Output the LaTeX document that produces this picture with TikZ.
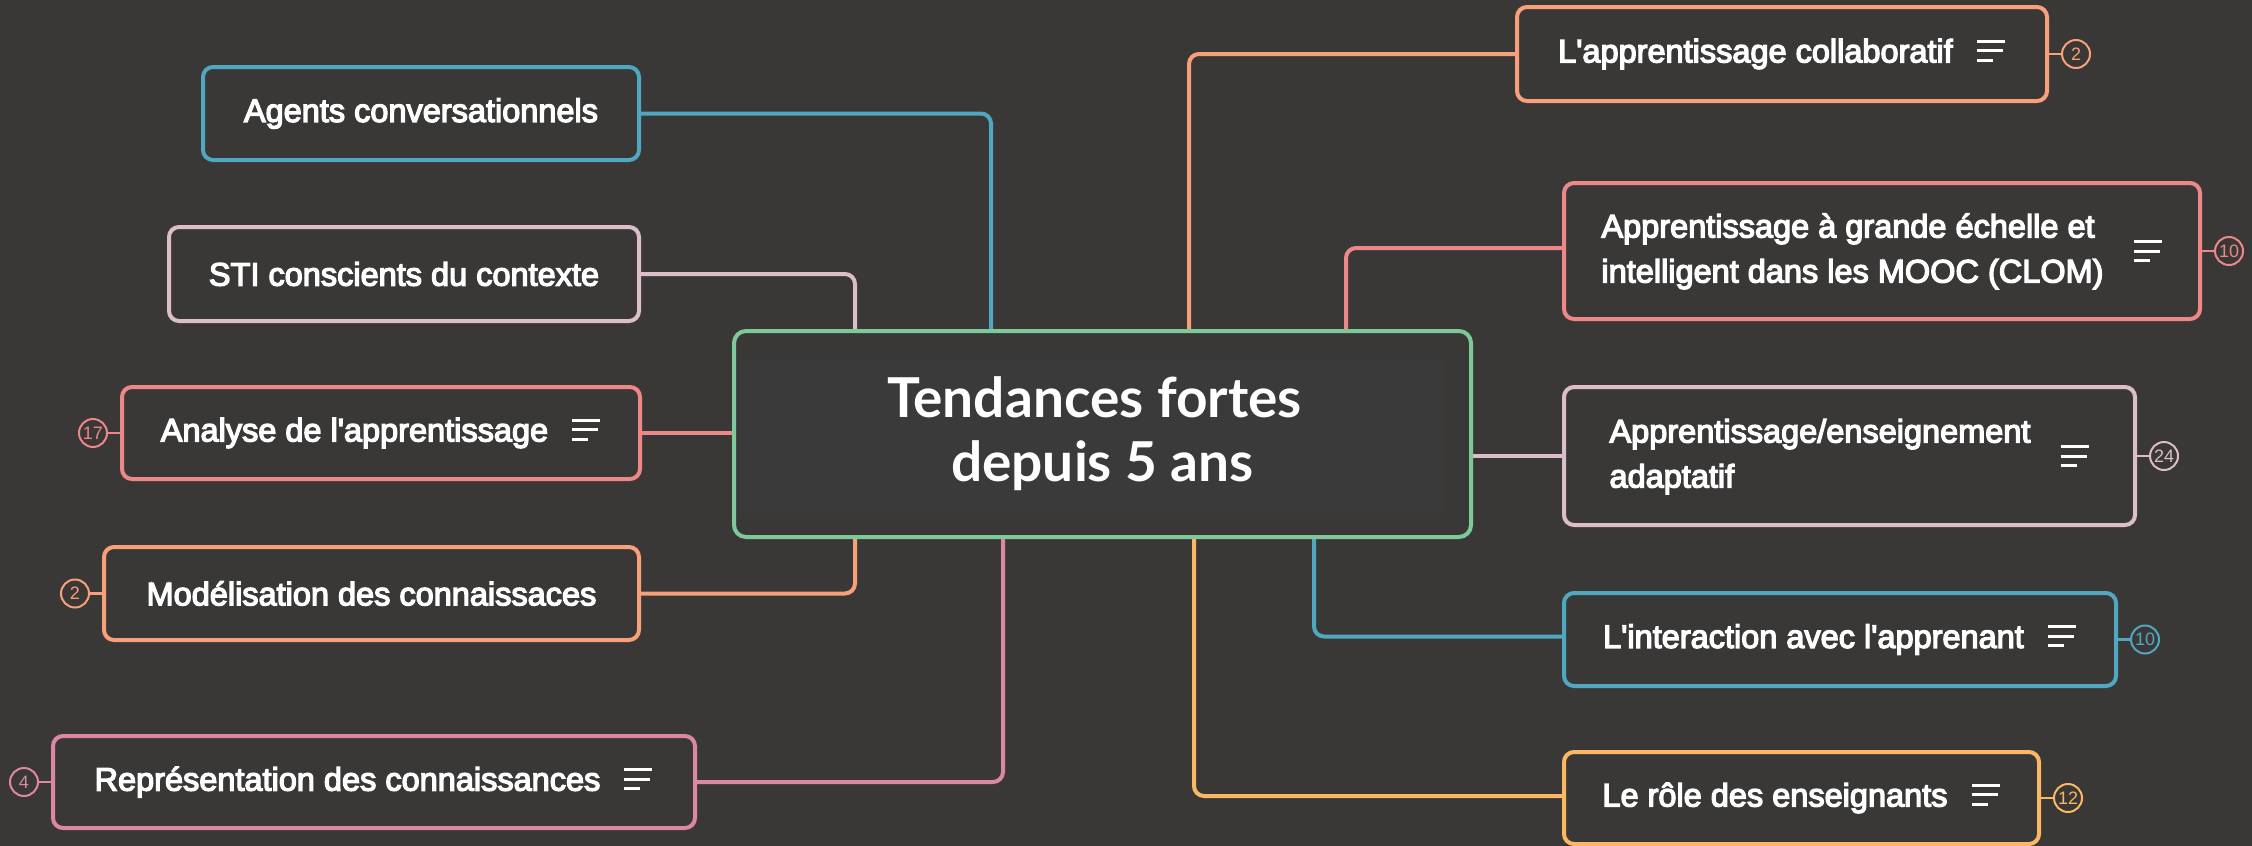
\documentclass[tikz,border=0pt]{standalone}
\usepackage{fontspec}
\setmainfont{Liberation Sans}
\newfontfamily\nodefont[FakeBold=4]{Liberation Sans}
\newfontfamily\titlefont{Lato}
\usetikzlibrary{positioning}

\definecolor{bgcol}{HTML}{393837}
\definecolor{innercol}{HTML}{3B3A3A}
\definecolor{cGreen}{HTML}{7DC99A}
\definecolor{cBlue}{HTML}{50A8C0}
\definecolor{cRose}{HTML}{DCBEC8}
\definecolor{cSalmon}{HTML}{EE8888}
\definecolor{cOrange}{HTML}{F8A07A}
\definecolor{cPink}{HTML}{DA88A4}
\definecolor{cGold}{HTML}{FAB864}

\pgfdeclarelayer{bg}
\pgfsetlayers{bg,main}

% "notes" marker: three bars of decreasing length
\newcommand\noteicon{\hbox to 29pt{\vbox{\hrule width 28pt height 3pt\vskip 6.5pt
  \hrule width 26pt height 3pt\vskip 6.5pt\hrule width 16pt height 3pt}\hss}}
\newcommand\withicon[1]{#1\hspace{24pt}\raisebox{0.5pt}{\noteicon}}
\newcommand\twolines[2]{$\vcenter{\hbox{\begin{tabular}{@{}l@{}}#1\\#2\end{tabular}}}$%
  \hspace{30pt}$\vcenter{\noteicon}$}
\newcommand\apos{\textquotesingle}

\tikzset{
  topic/.style={draw=#1, line width=4pt, rounded corners=10pt, inner sep=0pt,
    text=white, font=\nodefont\fontsize{32.5}{45}\selectfont},
  link/.style={draw=#1, line width=4pt, rounded corners=10pt},
  badge/.style={circle, draw=#1, line width=2pt, minimum size=28pt, inner sep=0pt,
    text=#1, font=\fontsize{18}{18}\selectfont},
  stub/.style={draw=#1, line width=2.5pt}
}

\begin{document}
\begin{tikzpicture}[x=1pt, y=-1pt]
\useasboundingbox (0,0) rectangle (2252,846);
\begin{pgfonlayer}{bg}
  \fill[bgcol] (0,0) rectangle (2252,846);
\end{pgfonlayer}

% central topic
\node[draw=cGreen, line width=4pt, rounded corners=12pt, minimum width=737pt,
  minimum height=206pt, inner sep=0pt, align=center, text=white,
  font=\titlefont\bfseries\fontsize{55}{64}\selectfont] (center) at (1102.5,434)
  {Tendances fortes\hspace*{16pt}\\depuis 5 ans};

% left branches
\node[topic=cBlue, minimum width=436pt, minimum height=93pt] (agents) at (421,113.5)
  {Agents conversationnels};
\node[topic=cRose, minimum width=470pt, minimum height=94pt] (sti) at (404,274)
  {STI conscients du contexte};
\node[topic=cSalmon, minimum width=518pt, minimum height=92pt] (analyse) at (381,433)
  {\withicon{Analyse de l\apos apprentissage}};
\node[topic=cOrange, minimum width=535pt, minimum height=93pt] (model) at (371.5,593.5)
  {Modélisation des connaissaces};
\node[topic=cPink, minimum width=642pt, minimum height=92pt] (repr) at (374,782)
  {\withicon{Représentation des connaissances}};

% right branches
\node[topic=cOrange, minimum width=530pt, minimum height=94pt] (collab) at (1782,54)
  {\withicon{L\apos apprentissage collaboratif}};
\node[topic=cSalmon, minimum width=636pt, minimum height=136pt] (mooc) at (1882,251)
  {\twolines{Apprentissage à grande échelle et}{intelligent dans les MOOC (CLOM)}};
\node[topic=cRose, minimum width=571pt, minimum height=138pt] (adapt) at (1849.5,456)
  {\twolines{Apprentissage/enseignement}{adaptatif}};
\node[topic=cBlue, minimum width=552pt, minimum height=93pt] (interact) at (1840,639.5)
  {\withicon{L\apos interaction avec l\apos apprenant}};
\node[topic=cGold, minimum width=475pt, minimum height=92pt] (role) at (1801.5,798)
  {\withicon{Le rôle des enseignants}};

% count badges
\node[badge=cSalmon, left=12pt of analyse] (nAnalyse) {17};
\node[badge=cOrange, left=12pt of model] (nModel) {2};
\node[badge=cPink, left=12pt of repr] (nRepr) {4};
\node[badge=cOrange, right=12pt of collab] (nCollab) {2};
\node[badge=cSalmon, right=12pt of mooc] (nMooc) {10};
\node[badge=cRose, right=12pt of adapt] (nAdapt) {24};
\node[badge=cBlue, right=12pt of interact] (nInteract) {10};
\node[badge=cGold, right=12pt of role] (nRole) {12};

\begin{pgfonlayer}{bg}
  % highlighted panel behind the title
  \fill[innercol] ([shift={(8pt,-31pt)}]center.north west)
    rectangle ([shift={(-29pt,26pt)}]center.south east);
  % connectors
  \draw[link=cBlue] (agents.east) -| ([xshift=-111.5pt]center.north);
  \draw[link=cRose] (sti.east) -| ([xshift=-247.5pt]center.north);
  \draw[link=cSalmon] (analyse.east) -- (center.west |- analyse.east);
  \draw[link=cOrange] (model.east) -| ([xshift=-247.5pt]center.south);
  \draw[link=cPink] (repr.east) -| ([xshift=-99.5pt]center.south);
  \draw[link=cOrange] (collab.west) -| ([xshift=86.5pt]center.north);
  \draw[link=cSalmon] ([yshift=3pt]mooc.west) -| ([xshift=243.5pt]center.north);
  \draw[link=cRose] (adapt.west) -- (center.east |- adapt.west);
  \draw[link=cBlue] ([yshift=3pt]interact.west) -| ([xshift=211.5pt]center.south);
  \draw[link=cGold] ([yshift=2pt]role.west) -| ([xshift=91.5pt]center.south);
  % badge stubs
  \draw[stub=cSalmon] (analyse.west) -- (nAnalyse.east);
  \draw[stub=cOrange] (model.west) -- (nModel.east);
  \draw[stub=cPink] (repr.west) -- (nRepr.east);
  \draw[stub=cOrange] (collab.east) -- (nCollab.west);
  \draw[stub=cSalmon] (mooc.east) -- (nMooc.west);
  \draw[stub=cRose] (adapt.east) -- (nAdapt.west);
  \draw[stub=cBlue] (interact.east) -- (nInteract.west);
  \draw[stub=cGold] (role.east) -- (nRole.west);
\end{pgfonlayer}
\end{tikzpicture}
\end{document}
